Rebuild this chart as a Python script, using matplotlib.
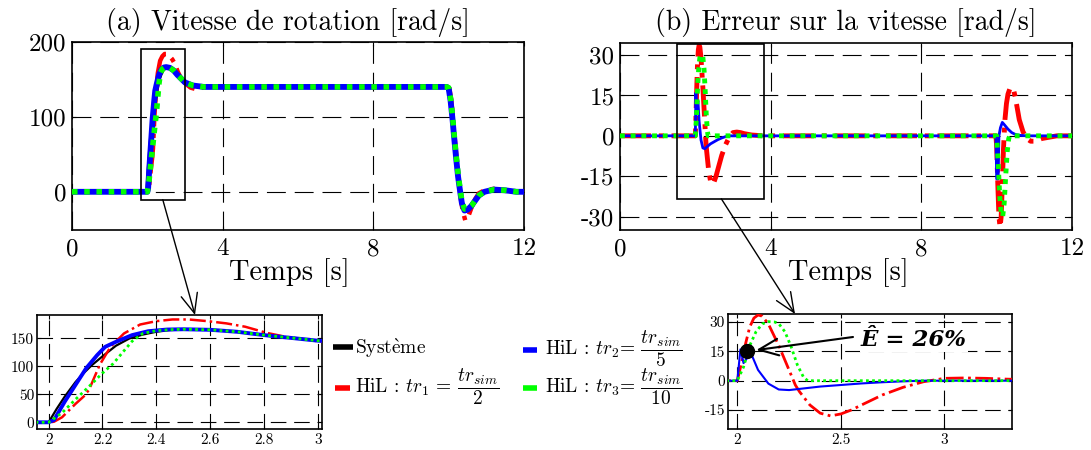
import matplotlib
matplotlib.use("Agg")
import matplotlib.pyplot as plt
from matplotlib.lines import Line2D
from matplotlib.patches import Rectangle, ConnectionPatch

plt.rcParams.update({
    "font.family": "serif",
    "font.serif": ["cmr10"],
    "mathtext.fontset": "cm",
    "axes.unicode_minus": False,
})

# ---------------- speed [rad/s] ----------------
t_sys = [0, 2.0, 2.03, 2.06, 2.1, 2.13, 2.16, 2.2, 2.25, 2.3, 2.35, 2.4, 2.45, 2.5, 2.6, 2.7, 2.8, 2.9, 3.0, 3.2,
         3.5, 4.0, 9.95, 10.0, 10.05, 10.1, 10.15, 10.2, 10.25, 10.3, 10.35, 10.42, 10.5, 10.6, 10.7, 10.8, 10.95,
         11.2, 11.5, 11.8, 12.0]
w_sys = [0, 0, 24, 46, 72, 88, 102, 118, 137, 150, 157, 162, 165, 166, 165.5, 162, 156, 151, 146, 142,
         140, 140, 140, 138, 122, 98, 70, 44, 20, 2, -15, -24, -24, -19, -12, -5, 0, 3, 2, 0, 0]

t_hil1 = [0, 2.0, 2.02, 2.05, 2.1, 2.13, 2.15, 2.19, 2.23, 2.28, 2.34, 2.4, 2.46, 2.52, 2.59, 2.66, 2.73, 2.81,
          2.88, 2.96, 3.0, 3.15, 3.3, 3.5, 4.0, 9.97, 10.02, 10.07, 10.12, 10.17, 10.22, 10.27, 10.32, 10.37,
          10.44, 10.52, 10.6, 10.7, 10.8, 10.95, 11.2, 11.5, 11.8, 12.0]
w_hil1 = [0, 0, 1, 9, 33, 46, 58, 103, 135, 159, 175, 181, 184, 184, 181, 177, 171, 160,
          153, 148, 145, 139, 137, 139.5, 140, 140, 138, 122, 96, 67, 40, 15, -8, -25,
          -38, -33, -22, -10, -2, 2, 4, 2, 0, 0]

t_hil2 = [0, 2.0, 2.02, 2.06, 2.1, 2.14, 2.18, 2.21, 2.25, 2.31, 2.37, 2.44, 2.5, 2.6, 2.7, 2.8, 2.9, 3.0, 3.2,
          3.5, 4.0, 9.95, 10.0, 10.05, 10.1, 10.15, 10.2, 10.25, 10.3, 10.35, 10.42, 10.5, 10.6, 10.7, 10.8,
          10.95, 11.2, 11.5, 11.8, 12.0]
w_hil2 = [0, 0, 4, 37, 67, 97, 120, 135, 144, 156, 163, 166, 166.5, 165.5, 162, 156, 151, 146, 142,
          140, 140, 140, 138, 122, 98, 70, 44, 20, 2, -15, -25, -24, -19, -12, -5,
          0, 3, 2, 0, 0]

t_hil3 = [0, 2.0, 2.015, 2.05, 2.1, 2.15, 2.2, 2.24, 2.28, 2.31, 2.35, 2.4, 2.46, 2.5, 2.6, 2.7, 2.8, 2.9, 3.0,
          3.2, 3.5, 4.0, 9.95, 10.0, 10.05, 10.1, 10.15, 10.2, 10.25, 10.3, 10.35, 10.42, 10.5, 10.6, 10.7,
          10.8, 10.95, 11.2, 11.5, 11.8, 12.0]
w_hil3 = [0, 0, 5, 17, 41, 64, 88, 105, 128, 145, 159, 164, 166, 166.5, 165.5, 162, 156, 151, 146,
          142, 140, 140, 140, 139, 125, 102, 74, 48, 24, 5, -12, -23, -23, -19, -12,
          -5, 0, 3, 2, 0, 0]

# ---------------- speed error [rad/s] ----------------
te_hil1 = [0, 2.0, 2.02, 2.04, 2.06, 2.08, 2.1, 2.12, 2.15, 2.2, 2.25, 2.28, 2.3, 2.35, 2.4, 2.45, 2.5, 2.55,
           2.6, 2.7, 2.8, 2.9, 3.0, 3.1, 3.2, 3.3, 3.5, 3.8, 9.98, 10.0, 10.03, 10.06, 10.09, 10.12, 10.15,
           10.18, 10.22, 10.26, 10.3, 10.35, 10.4, 10.45, 10.5, 10.55, 10.6, 10.7, 10.8, 10.9, 11.0, 11.1,
           11.2, 11.4, 11.6, 12.0]
e_hil1 = [0, 0, 9, 19, 27.5, 32, 33.6, 33, 29, 18, 5.4, -2.2, -5.6, -12.4, -16.6, -18, -17, -15,
          -12.4, -7.3, -3.4, -0.5, 1.2, 1.4, 1.2, 0.8, 0.3, 0, 0, -4, -18, -30, -34, -30, -18,
          -5, 6, 12, 15.5, 17.5, 18, 17, 14, 10, 6, 1.5, -1, -2, -2, -1.5,
          -1, -0.5, 0, 0]

te_hil2 = [0, 2.0, 2.015, 2.03, 2.05, 2.07, 2.1, 2.15, 2.2, 2.25, 2.3, 2.4, 2.5, 2.6, 2.7, 2.8, 2.9, 9.98,
           10.0, 10.04, 10.06, 10.1, 10.15, 10.2, 10.3, 10.4, 10.5, 10.6, 10.8, 12.0]
e_hil2 = [0, 0, 16, 9, 12, 13, 5.5, -1.5, -4.5, -4.8, -4.2, -3, -2.2, -1.4, -0.8, -0.3, 0, 0,
          -16, -16, 0, 3, 5, 4.2, 2.5, 1.2, 0.5, 0.2, 0, 0]

te_hil3 = [0, 2.0, 2.03, 2.06, 2.09, 2.12, 2.15, 2.18, 2.2, 2.23, 2.26, 2.29, 2.32, 2.34, 10.0, 10.04, 10.08,
           10.12, 10.16, 10.2, 10.24, 10.28, 10.32, 10.35, 12.0]
e_hil3 = [0, 0, 7, 18, 25, 29, 30.2, 30, 29.2, 25, 17.3, 8, 1.7, 0, 0, -10, -22,
          -29, -30, -25, -15, -6, -1, 0, 0]

# overshoot marker on the error zoom
E_hat_t, E_hat_v = 2.045, 15
E_hat_label = "Ê = 26%"

# ticks and labels
main_xticks = [0, 4, 8, 12]
speed_yticks = [0, 100, 200]
err_yticks = [-30, -15, 0, 15, 30]
zoom_speed_xticks = [2, 2.2, 2.4, 2.6, 2.8, 3]
zoom_speed_yticks = [0, 50, 100, 150]
zoom_err_xticks = [2, 2.5, 3]
zoom_err_yticks = [-15, 0, 15, 30]

RED, BLUE, GREEN, BLACK = "#ff0000", "#0000ff", "#00ff00", "#000000"

W, H = 1091, 450
fig = plt.figure(figsize=(W / 100, H / 100), dpi=100)


def axes_px(left, top, right, bottom):
    return fig.add_axes([left / W, 1 - bottom / H, (right - left) / W, (bottom - top) / H])


def style(ax, xt, yt, xlim, ylim, fs, pad_x, pad_y, dash):
    ax.set_xlim(*xlim)
    ax.set_ylim(*ylim)
    ax.set_xticks(xt)
    ax.set_xticklabels([f"{v:g}" for v in xt])
    ax.set_yticks(yt)
    ax.set_yticklabels([f"{v:g}" for v in yt])
    ax.tick_params(axis="both", direction="in", length=3, width=0.8, labelsize=fs, top=True, right=True)
    ax.tick_params(axis="x", pad=pad_x)
    ax.tick_params(axis="y", pad=pad_y)
    ax.grid(True, color="k", lw=0.8, ls=(0, dash))
    for sp in ax.spines.values():
        sp.set_linewidth(1.2)


def draw_speed(ax, lws):
    ax.plot(t_sys, w_sys, color=BLACK, lw=lws[0], zorder=3)
    ax.plot(t_hil1, w_hil1, color=RED, lw=lws[1], ls="-.", zorder=4)
    ax.plot(t_hil2, w_hil2, color=BLUE, lw=lws[2], zorder=5)
    ax.plot(t_hil3, w_hil3, color=GREEN, lw=lws[3], ls=(0, (1, 1.2)), zorder=6)


def draw_error(ax, lws):
    ax.plot(te_hil1, e_hil1, color=RED, lw=lws[0], ls="-.", zorder=4)
    ax.plot(te_hil2, e_hil2, color=BLUE, lw=lws[1], zorder=5)
    ax.plot(te_hil3, e_hil3, color=GREEN, lw=lws[2], ls=(0, (1, 1.2)), zorder=6)


# ---- (a) rotation speed
ax_a = axes_px(72, 42, 524, 230)
draw_speed(ax_a, (3, 3.2, 4.2, 4))
style(ax_a, main_xticks, speed_yticks, (0, 12), (-51, 200), 18, 6, 4, (17, 8))
ax_a.add_patch(Rectangle((1.82, -10.5), 1.18, 201.5, fill=False, ec="k", lw=1.2, zorder=8, clip_on=False))

# ---- (b) speed error
ax_b = axes_px(620, 43, 1072, 230)
draw_error(ax_b, (3.5, 2.0, 3.5))
style(ax_b, main_xticks, err_yticks, (0, 12), (-35, 34.5), 18, 6, 4, (17, 8))
ax_b.add_patch(Rectangle((1.51, -23.4), 2.3, 57.5, fill=False, ec="k", lw=1.2, zorder=8, clip_on=False))

# titles and axis labels
fig.text(288 / W, 1 - 30 / H, "(a) Vitesse de rotation [rad/s]", ha="center", va="baseline", fontsize=20)
fig.text(846 / W, 1 - 30 / H, "(b) Erreur sur la vitesse [rad/s]", ha="center", va="baseline", fontsize=20)
fig.text(289 / W, 1 - 280 / H, "Temps [s]", ha="center", va="baseline", fontsize=20.5)
fig.text(848 / W, 1 - 280 / H, "Temps [s]", ha="center", va="baseline", fontsize=20.5)

# ---- zoom on the speed rise
ins_a = axes_px(37, 315, 322, 429)
draw_speed(ins_a, (1.6, 1.8, 2.8, 2.0))
style(ins_a, zoom_speed_xticks, zoom_speed_yticks, (1.957, 3.015), (-12, 192), 11, 3, 2, (14, 7))

# ---- zoom on the error peak
ins_b = axes_px(728, 314, 1012, 429)
draw_error(ins_b, (2.0, 1.5, 2.0))
style(ins_b, zoom_err_xticks, zoom_err_yticks, (1.955, 3.326), (-24.7, 34.1), 11, 3, 2, (14, 7))
ins_b.plot([E_hat_t], [E_hat_v], "o", color="k", ms=10, zorder=9)

# links between the boxes and the zooms
for ax, xy, tip in ((ax_a, (2.41, -10.5), (195, H - 315)), (ax_b, (2.69, -23.4), (795, H - 314))):
    con = ConnectionPatch(xyA=xy, coordsA=ax.transData, xyB=tip, coordsB="figure pixels",
                          arrowstyle="->,head_length=0.7,head_width=0.3", mutation_scale=20,
                          color="k", lw=1.0, zorder=10)
    fig.add_artist(con)

# overshoot annotation
fig.text(861 / W, 1 - 346 / H, E_hat_label, ha="left", va="baseline", fontsize=16.5,
         family="DejaVu Serif", weight="bold", style="italic",
         bbox=dict(facecolor="white", edgecolor="none", pad=1), zorder=11)
arr = ConnectionPatch(xyA=(853, H - 337), coordsA="figure pixels", xyB=(E_hat_t, E_hat_v),
                      coordsB=ins_b.transData, arrowstyle="->,head_length=0.7,head_width=0.3",
                      mutation_scale=20, color="k", lw=1.5, shrinkB=7, zorder=12)
fig.add_artist(arr)

# legend
legend_items = [
    (BLACK, (333, 353, 347), (355, 354), r"Syst$\mathrm{\grave{e}}$me"),
    (RED, (335, 350, 388), (355, 393), r"HiL : $tr_1$ = $\dfrac{tr_{sim}}{2}$"),
    (BLUE, (523, 537, 350), (545, 355), r"HiL : $tr_2$= $\dfrac{tr_{sim}}{5}$"),
    (GREEN, (523, 537, 388), (545, 393), r"HiL : $tr_3$= $\dfrac{tr_{sim}}{10}$"),
]
for color, (x0, x1, y), (tx, ty), label in legend_items:
    fig.add_artist(Line2D([x0 / W, x1 / W], [1 - y / H, 1 - y / H], transform=fig.transFigure,
                          color=color, lw=4, solid_capstyle="butt"))
    fig.text(tx / W, 1 - ty / H, label, ha="left", va="baseline", fontsize=14)

fig.savefig("out.png", dpi=100)
